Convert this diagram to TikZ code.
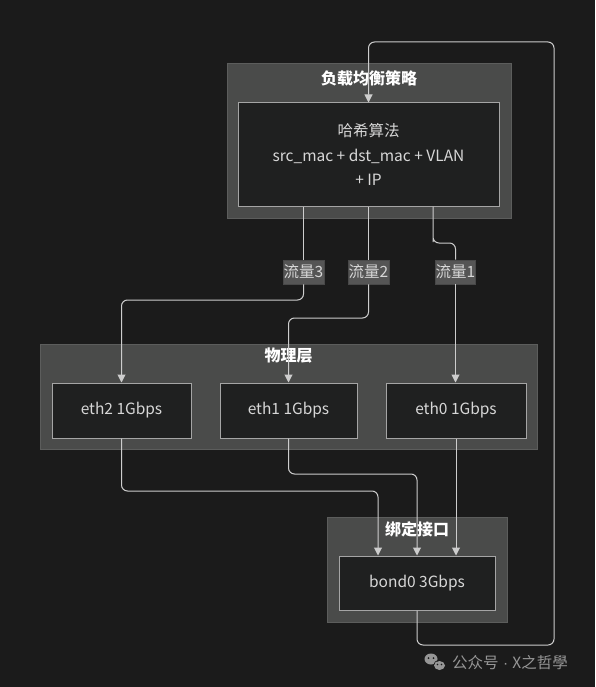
\documentclass[tikz,border=0pt]{standalone}
\usepackage{fontspec}
\setmainfont{Noto Sans CJK SC}
\newfontfamily\latinfont{Liberation Sans}
\usetikzlibrary{arrows.meta}
\definecolor{bgc}{RGB}{27,27,27}
\definecolor{clfill}{RGB}{74,75,74}
\definecolor{cldraw}{RGB}{92,93,92}
\definecolor{ndfill}{RGB}{31,32,32}
\definecolor{nddraw}{RGB}{165,165,165}
\definecolor{txt}{RGB}{215,215,215}
\definecolor{lblfill}{RGB}{85,85,85}
\definecolor{edgec}{RGB}{205,205,205}
\definecolor{wmc}{RGB}{150,150,150}
\tikzset{
  cluster/.style={draw=cldraw, fill=clfill, line width=1pt, inner sep=0pt},
  ctitle/.style={text=white, font=\fontsize{16}{18}\selectfont\bfseries, inner sep=0pt},
  box/.style={draw=nddraw, fill=ndfill, line width=1pt, inner sep=0pt, text=txt,
    font=\fontsize{15.5}{24.5}\selectfont, align=center},
  lbl/.style={fill=lblfill, draw=lblfill!85!black, line width=0.6pt, inner sep=0pt, text=txt,
    font=\fontsize{15.5}{16}\selectfont, minimum height=24pt},
  edge/.style={draw=edgec, line width=1pt, rounded corners=6pt},
  arr/.style={edge, -{Triangle[length=8pt,width=8pt]}},
}
\begin{document}
\begin{tikzpicture}[x=1pt,y=-1pt]
\fill[bgc] (0,0) rectangle (595,687);
\useasboundingbox (0,0) rectangle (595,687);
% clusters
\node[cluster, minimum width=284pt, minimum height=154pt] (c1) at (369,141) {};
\node[ctitle] (c1t) at (369,78) {负载均衡策略};
\node[cluster, minimum width=497pt, minimum height=105pt] (c2) at (288.5,396.5) {};
\node[ctitle] (c2t) at (288.5,356) {物理层};
\node[cluster, minimum width=180pt, minimum height=105pt] (c3) at (417,569.5) {};
\node[ctitle] (c3t) at (417,529) {绑定接口};
% nodes
\node[box, minimum width=261pt, minimum height=103pt] (hash) at (368.5,154.5)
  {哈希算法\\src\_mac + dst\_mac + VLAN\\+ IP};
\node[box, minimum width=139pt, minimum height=55pt] (eth2) at (121.5,410.5) {eth2 1Gbps};
\node[box, minimum width=137pt, minimum height=55pt] (eth1) at (288.5,410.5) {eth1 1Gbps};
\node[box, minimum width=140pt, minimum height=55pt] (eth0) at (456,410.5) {eth0 1Gbps};
\node[box, minimum width=156pt, minimum height=54pt] (bond) at (417,583) {bond0 3Gbps};
% labels
\node[lbl, minimum width=41pt] (l3) at (303.5,272) {流量3};
\node[lbl, minimum width=41pt] (l2) at (368.5,272) {流量2};
\node[lbl, minimum width=37pt] (l1) at (455.5,272) {流量1};
% edges hash -> labels
\draw[edge] (hash.south -| l3.north) -- (l3.north);
\draw[edge] (hash.south -| l2.north) -- (l2.north);
\draw[edge] (hash.south -| 433,0) -- (433,236) -- (433,243) -| (l1.north);
% labels -> eth
\draw[arr] (l3.south) -- (l3.south |- 0,300) -| (eth2.north);
\draw[arr] (l2.south) -- (l2.south |- 0,318) -| (eth1.north);
\draw[arr] (l1.south) -- (l1.south |- eth0.north);
% eth -> bond
\draw[arr] (eth2.south) -- (eth2.south |- 0,491) -| (bond.north -| 378,0);
\draw[arr] (eth1.south) -- (eth1.south |- 0,474) -| (bond.north);
\draw[arr] (eth0.south) -- (bond.north -| eth0.south);
% loop bond -> hash
\coordinate (lb) at (554,645);
\coordinate (lt) at (554,42);
\draw[arr] (bond.south) |- (lb) -- (lt) -| (hash.north);
% watermark
\node[text=wmc, font=\fontsize{15.5}{16}\selectfont, inner sep=0pt, anchor=west] (wm) at (452,663) {公众号{\latinfont\ · }X之哲學};
\fill[wmc] (431,659) ellipse (6.5pt and 5.5pt);
\fill[bgc] (428.5,658) circle (1pt) (433.5,658) circle (1pt);
\draw[bgc, line width=0.8pt] (439.5,665.5) ellipse (6pt and 5pt);
\fill[wmc] (439.5,665.5) ellipse (5.5pt and 4.5pt);
\fill[bgc] (437.5,664.5) circle (0.9pt) (441.5,664.5) circle (0.9pt);
\end{tikzpicture}
\end{document}
